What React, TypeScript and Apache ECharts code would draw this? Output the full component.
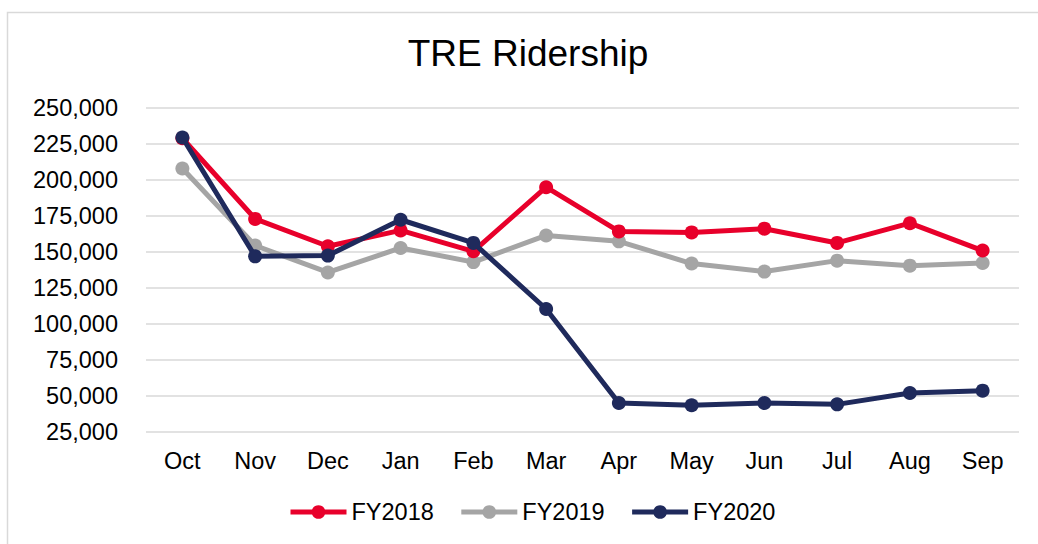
import React, { useEffect, useRef } from "react";
import * as echarts from "echarts";

const months = ["Oct", "Nov", "Dec", "Jan", "Feb", "Mar", "Apr", "May", "Jun", "Jul", "Aug", "Sep"];
const fy2018 = [229000, 173000, 154000, 165000, 150500, 195000, 164300, 163600, 166200, 156300, 170000, 151000];
const fy2019 = [208000, 154500, 135800, 152800, 143000, 161500, 157400, 142000, 136400, 144000, 140500, 142400];
const fy2020 = [229500, 147000, 147500, 172400, 156300, 110400, 45100, 43600, 45100, 44200, 52100, 53700];
const seriesNames = ["FY2018", "FY2019", "FY2020"];
const colors = { FY2018: "#E8002B", FY2019: "#A5A5A5", FY2020: "#1F2A5C" };

const FONT = "'Liberation Sans', Arial, sans-serif";

export default function App() {
  const ref = useRef<HTMLDivElement>(null);
  useEffect(() => {
    if (!ref.current) return;
    const chart = echarts.init(ref.current, null, { renderer: "svg" });
    const mk = (name: string, data: number[], z: number) => ({
      name,
      type: "line",
      data,
      z,
      symbol: "circle",
      symbolSize: 14,
      lineStyle: { width: 5, color: (colors as any)[name] },
      itemStyle: { color: (colors as any)[name] },
    });
    chart.setOption({
      animation: false,
      backgroundColor: "#ffffff",
      textStyle: { fontFamily: FONT },
      title: {
        text: "TRE Ridership",
        left: 523,
        top: 30,
        textAlign: "center",
        textStyle: { fontFamily: FONT, fontSize: 37, fontWeight: "normal", color: "#000000" },
      },
      graphic: [
        {
          type: "rect",
          shape: { x: 7.5, y: 12.5, width: 1100, height: 600 },
          style: { fill: "none", stroke: "#D9D9D9", lineWidth: 1.5 },
          silent: true,
        },
      ],
      legend: {
        data: seriesNames,
        left: 283,
        top: 495,
        itemWidth: 56,
        itemHeight: 17,
        itemGap: 25,
        lineStyle: { width: 5 },
        textStyle: { fontFamily: FONT, fontSize: 23.5, color: "#000000" },
      },
      grid: { left: 146, right: 19, top: 108, bottom: 112, containLabel: false },
      xAxis: {
        type: "category",
        data: months,
        boundaryGap: true,
        axisLine: { show: false },
        axisTick: { show: false },
        axisLabel: { fontFamily: FONT, fontSize: 23.5, color: "#000000", margin: 17 },
      },
      yAxis: {
        type: "value",
        min: 25000,
        max: 250000,
        interval: 25000,
        axisLine: { show: false },
        axisTick: { show: false },
        axisLabel: {
          fontFamily: FONT,
          fontSize: 23.5,
          color: "#000000",
          margin: 28,
          formatter: (v: number) => v.toLocaleString("en-US"),
        },
        splitLine: { lineStyle: { color: "#D9D9D9", width: 1.5 } },
      },
      series: [mk("FY2019", fy2019, 2), mk("FY2018", fy2018, 3), mk("FY2020", fy2020, 4)],
    });
    return () => chart.dispose();
  }, []);
  return (
    <div
      ref={ref}
      style={{ position: "absolute", left: 0, top: 0, width: 1038, height: 544 }}
    />
  );
}
